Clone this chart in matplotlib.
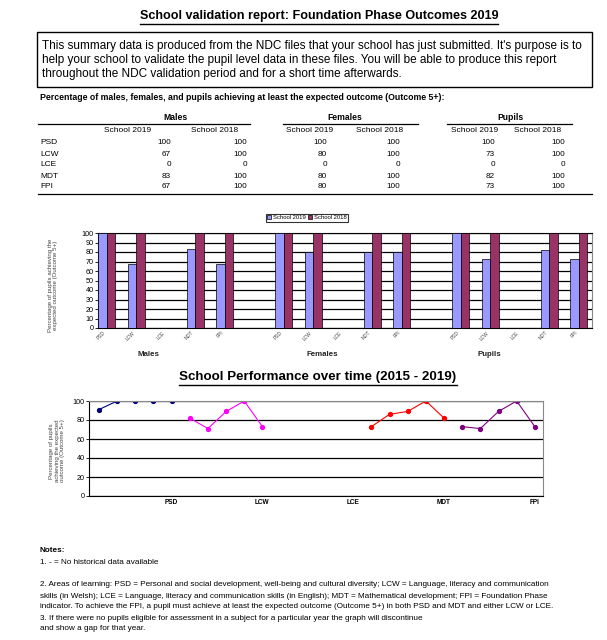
import numpy as np
import matplotlib
matplotlib.use("Agg")
from matplotlib import pyplot as plt
from matplotlib.lines import Line2D
from matplotlib.patches import Rectangle, Patch

plt.rcParams["font.family"] = ["Liberation Sans", "DejaVu Sans"]

W, H = 607, 640

subjects = ["PSD", "LCW", "LCE", "MDT", "FPI"]
groups = ["Males", "Females", "Pupils"]
males_2019 = [100, 67, 0, 83, 67]
males_2018 = [100, 100, 0, 100, 100]
females_2019 = [100, 80, 0, 80, 80]
females_2018 = [100, 100, 0, 100, 100]
pupils_2019 = [100, 73, 0, 82, 73]
pupils_2018 = [100, 100, 0, 100, 100]

# 2015..2019 per subject, nan = no pupils / no data
trend_psd = [91, 100, 100, 100, 100]
trend_lcw = [82, 71, 89, 100, 73]
trend_lce = [np.nan] * 5
trend_mdt = [73, 86, 89, 100, 82]
trend_fpi = [73, 71, 89, 100, 73]

c2019 = "#9999FF"
c2018 = "#993366"


def fx(x):
    return x / W


def fy(y):
    return 1 - y / H


fig = plt.figure(figsize=(W / 100, H / 100), dpi=100)
renderer = fig.canvas.get_renderer()


def hline(x0, x1, y, lw=1.0, color="black"):
    fig.add_artist(Line2D([fx(x0), fx(x1)], [fy(y), fy(y)], lw=lw, color=color))


def underline(t, dy=2, lw=1.0):
    bb = t.get_window_extent(renderer)
    y = bb.y0 - dy
    fig.add_artist(Line2D([bb.x0 / W, bb.x1 / W], [y / H, y / H], lw=lw, color="black"))


# title
t = fig.text(fx(319), fy(16), "School validation report: Foundation Phase Outcomes 2019",
             ha="center", va="center", fontsize=9.1, fontweight="bold")
underline(t, dy=1.5)

# intro box
fig.add_artist(Rectangle((fx(37), fy(87)), fx(592) - fx(37), fy(32) - fy(87),
                         fill=False, lw=1.0, edgecolor="black"))
intro = ["This summary data is produced from the NDC files that your school has just submitted. It's purpose is to",
         "help your school to validate the pupil level data in these files. You will be able to produce this report",
         "throughout the NDC validation period and for a short time afterwards."]
for i, line in enumerate(intro):
    fig.text(fx(42), fy(46 + 14 * i), line, ha="left", va="center", fontsize=8.5)

# table
fig.text(fx(40), fy(98), "Percentage of males, females, and pupils achieving at least the expected outcome (Outcome 5+):",
         ha="left", va="center", fontsize=6.3, fontweight="bold")

group_centres = [175, 345, 510]
group_lines = [(38, 250), (283, 418), (447, 572)]
sub_centres = [(128, 215), (310, 380), (475, 538)]
val_right = [(171, 247), (327, 400), (495, 565)]
table = [(males_2019, males_2018), (females_2019, females_2018), (pupils_2019, pupils_2018)]
for g, name in enumerate(groups):
    fig.text(fx(group_centres[g]), fy(117), name, ha="center", va="center", fontsize=6.2, fontweight="bold")
    hline(group_lines[g][0], group_lines[g][1], 123.5, lw=0.9)
    fig.text(fx(sub_centres[g][0]), fy(131), "School 2019", ha="center", va="center", fontsize=6)
    fig.text(fx(sub_centres[g][1]), fy(131), "School 2018", ha="center", va="center", fontsize=6)
    for r in range(len(subjects)):
        for k in range(2):
            fig.text(fx(val_right[g][k]), fy(143 + 11 * r), str(table[g][k][r]),
                     ha="right", va="center", fontsize=5.9)
for r, s in enumerate(subjects):
    fig.text(fx(40), fy(143 + 11 * r), s, ha="left", va="center", fontsize=6)
hline(38, 592, 194, lw=0.9)

# bar chart
ax1 = fig.add_axes([fx(98), fy(328), fx(592) - fx(98), fy(233) - fy(328)])
vals19 = males_2019 + [np.nan] + females_2019 + [np.nan] + pupils_2019
vals18 = males_2018 + [np.nan] + females_2018 + [np.nan] + pupils_2018
labels = subjects + [""] + subjects + [""] + subjects
xpos = np.arange(len(vals19))
bw = 0.29
ax1.bar(xpos - bw / 2, vals19, bw, color=c2019, edgecolor="black", lw=0.5, zorder=3, label="School 2019")
ax1.bar(xpos + bw / 2, vals18, bw, color=c2018, edgecolor="black", lw=0.5, zorder=3, label="School 2018")
ax1.set_xlim(-0.29, 16.45)
ax1.set_ylim(0, 100)
ax1.set_yticks(range(0, 101, 10))
ax1.yaxis.grid(True, color="black", lw=0.9)
ax1.set_axisbelow(True)
ax1.set_xticks(xpos)
ax1.set_xticklabels(labels, rotation=45, ha="right", fontsize=3.5, color="#444444")
ax1.tick_params(axis="x", length=0, pad=1.5)
ax1.tick_params(axis="y", labelsize=5.2, length=2, pad=1, width=0.6)
ax1.spines["right"].set_color("#888888")
ax1.spines["top"].set_color("black")
for sp in ["left", "bottom"]:
    ax1.spines[sp].set_linewidth(0.8)
leg = ax1.legend(handles=[Patch(facecolor=c2019, edgecolor="black", lw=0.5, label="School 2019"),
                          Patch(facecolor=c2018, edgecolor="black", lw=0.5, label="School 2018")],
                 loc="center", bbox_to_anchor=(fx(307), fy(217.5)), bbox_transform=fig.transFigure,
                 ncol=2, fontsize=4.2, frameon=True, fancybox=False, handlelength=0.7, handleheight=0.7,
                 handletextpad=0.3, columnspacing=0.4, borderpad=0.25, borderaxespad=0)
leg.get_frame().set_edgecolor("black")
leg.get_frame().set_linewidth(0.8)

fig.text(fx(53), fy(285), "Percentage of pupils achieving the\nexpected outcome (Outcome 5+)",
         rotation=90, ha="center", va="center", fontsize=4.4, color="#444444", linespacing=1.1)
for name, xc in zip(groups, [148, 322, 489]):
    fig.text(fx(xc), fy(355), name, ha="center", va="center", fontsize=5.7, fontweight="bold", color="#222222")

# line chart
t2 = fig.text(fx(318), fy(377), "School Performance over time (2015 - 2019)",
              ha="center", va="center", fontsize=9.6, fontweight="bold")
underline(t2, dy=1.5)

ax2 = fig.add_axes([fx(89), fy(496), fx(543) - fx(89), fy(401) - fy(496)])
trends = [trend_psd, trend_lcw, trend_lce, trend_mdt, trend_fpi]
colours = ["#000080", "#FF00FF", "#808000", "#FF0000", "#800080"]
for g, (vals, col) in enumerate(zip(trends, colours)):
    xs = 5 * g + np.arange(len(vals))
    ax2.plot(xs, vals, "-o", color=col, ms=2.8, lw=0.8)
ax2.set_xlim(-0.55, 24.45)
ax2.set_ylim(0, 100)
ax2.set_yticks(range(0, 101, 20))
ax2.yaxis.grid(True, color="black", lw=0.9)
ax2.set_axisbelow(True)
ax2.set_xticks([5 * g + 4 for g in range(len(subjects))])
ax2.set_xticklabels(subjects, fontsize=4.7, fontweight="bold")
ax2.tick_params(axis="x", length=0, pad=2)
ax2.tick_params(axis="y", labelsize=5.2, length=2, pad=1, width=0.6)
ax2.spines["right"].set_color("#888888")
ax2.spines["top"].set_color("#888888")
for sp in ["left", "bottom"]:
    ax2.spines[sp].set_linewidth(0.8)

fig.text(fx(57), fy(451), "Percentage of pupils\nachieving the expected\noutcome (Outcome 5+)",
         rotation=90, ha="center", va="center", fontsize=4.4, color="#444444", linespacing=1.1)

# notes
notes = [
    (551, "Notes:", True),
    (563, "1. - = No historical data available", False),
    (584, "2. Areas of learning: PSD = Personal and social development, well-being and cultural diversity; LCW = Language, literacy and communication", False),
    (596, "skills (in Welsh); LCE = Language, literacy and communication skills (in English); MDT = Mathematical development; FPI = Foundation Phase", False),
    (607, "indicator. To achieve the FPI, a pupil must achieve at least the expected outcome (Outcome 5+) in both PSD and MDT and either LCW or LCE.", False),
    (618, "3. If there were no pupils eligible for assessment in a subject for a particular year the graph will discontinue", False),
    (629, "and show a gap for that year.", False),
]
for y, txt, bold in notes:
    fig.text(fx(40), fy(y), txt, ha="left", va="center", fontsize=5.9,
             fontweight="bold" if bold else "normal")

fig.savefig("out.png", dpi=100)
